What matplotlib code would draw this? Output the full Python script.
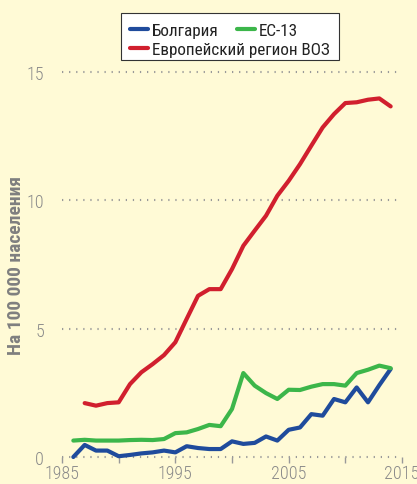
import matplotlib
matplotlib.use("Agg")
import matplotlib.pyplot as plt
from matplotlib.lines import Line2D
from matplotlib.patches import Rectangle

plt.rcParams['font.family'] = ['Roboto Condensed', 'DejaVu Sans']

# data
years = list(range(1986, 2015))
bulgaria = [0.0, 0.47, 0.25, 0.25, 0.03, 0.08, 0.14, 0.18, 0.25, 0.18,
            0.42, 0.35, 0.31, 0.31, 0.61, 0.51, 0.55, 0.80, 0.64, 1.06,
            1.15, 1.67, 1.61, 2.26, 2.13, 2.71, 2.13, 2.80, 3.43]
ec13 = [0.64, 0.67, 0.64, 0.64, 0.64, 0.66, 0.67, 0.66, 0.70, 0.93,
        0.96, 1.09, 1.25, 1.20, 1.87, 3.27, 2.78, 2.49, 2.26, 2.62,
        2.61, 2.74, 2.84, 2.84, 2.78, 3.27, 3.40, 3.56, 3.46]
years_eur = list(range(1987, 2015))
europe = [2.10, 2.00, 2.10, 2.13, 2.84, 3.30, 3.62, 3.97, 4.47, 5.38,
          6.28, 6.54, 6.54, 7.32, 8.23, 8.82, 9.40, 10.18, 10.76, 11.41,
          12.13, 12.84, 13.36, 13.79, 13.82, 13.92, 13.97, 13.66]

labels = ['Болгария', 'ЕС-13', 'Европейский регион ВОЗ']
colors = ['#1f4b9c', '#3cb64a', '#d11f2e']
bg = '#fffad6'
grey = '#8a8a8a'

W, H = 417, 485
fig = plt.figure(figsize=(W / 100, H / 100), dpi=100, facecolor=bg)
ax = fig.add_axes([62 / W, 27 / H, 340 / W, 385 / H], facecolor=bg)

for yv in [0, 5, 10, 15]:
    ax.axhline(yv, color='#999999', lw=1.5, ls=(0, (0.6, 2.8)), zorder=1, clip_on=False)

for xs, ys, c in [(years, bulgaria, colors[0]), (years, ec13, colors[1]), (years_eur, europe, colors[2])]:
    ax.plot(xs, ys, color=c, lw=3, solid_joinstyle='round', solid_capstyle='round',
            zorder=3, clip_on=False)

ax.set_xlim(1985, 2015)
ax.set_ylim(0, 15)
ax.set_xticks(range(1985, 2016, 5))
ax.set_xticklabels(['1985', '', '1995', '', '2005', '', '2015'])
ax.set_yticks([0, 5, 10, 15])
for s in ax.spines.values():
    s.set_visible(False)
ax.tick_params(axis='x', length=4, width=1, color='#999999', labelcolor=grey, labelsize=13, pad=1)
ax.tick_params(axis='y', length=0, labelcolor=grey, labelsize=13, pad=13)
for t in ax.get_xticklabels() + ax.get_yticklabels():
    t.set_fontweight('light')
ax.set_ylabel('На 100 000 населения', color='#7f7f7f', fontsize=14, fontweight='bold')
ax.yaxis.set_label_coords(-0.108, 0.5)

# legend box: two rows
fig.patches.append(Rectangle((121 / W, 1 - 61 / H), 218 / W, 47 / H,
                             transform=fig.transFigure, facecolor='white',
                             edgecolor='#333333', lw=0.8, zorder=0))
entries = [(130, 30, 0), (237, 30, 1), (130, 49, 2)]
for x0, y0, i in entries:
    fig.add_artist(Line2D([x0 / W, (x0 + 18) / W], [1 - y0 / H] * 2, color=colors[i], lw=3,
                          solid_capstyle='round', transform=fig.transFigure))
    fig.text((x0 + 22) / W, 1 - y0 / H, labels[i], fontsize=12.3, color='#222222',
             ha='left', va='center_baseline')

fig.savefig('out.png', dpi=100, facecolor=bg)
